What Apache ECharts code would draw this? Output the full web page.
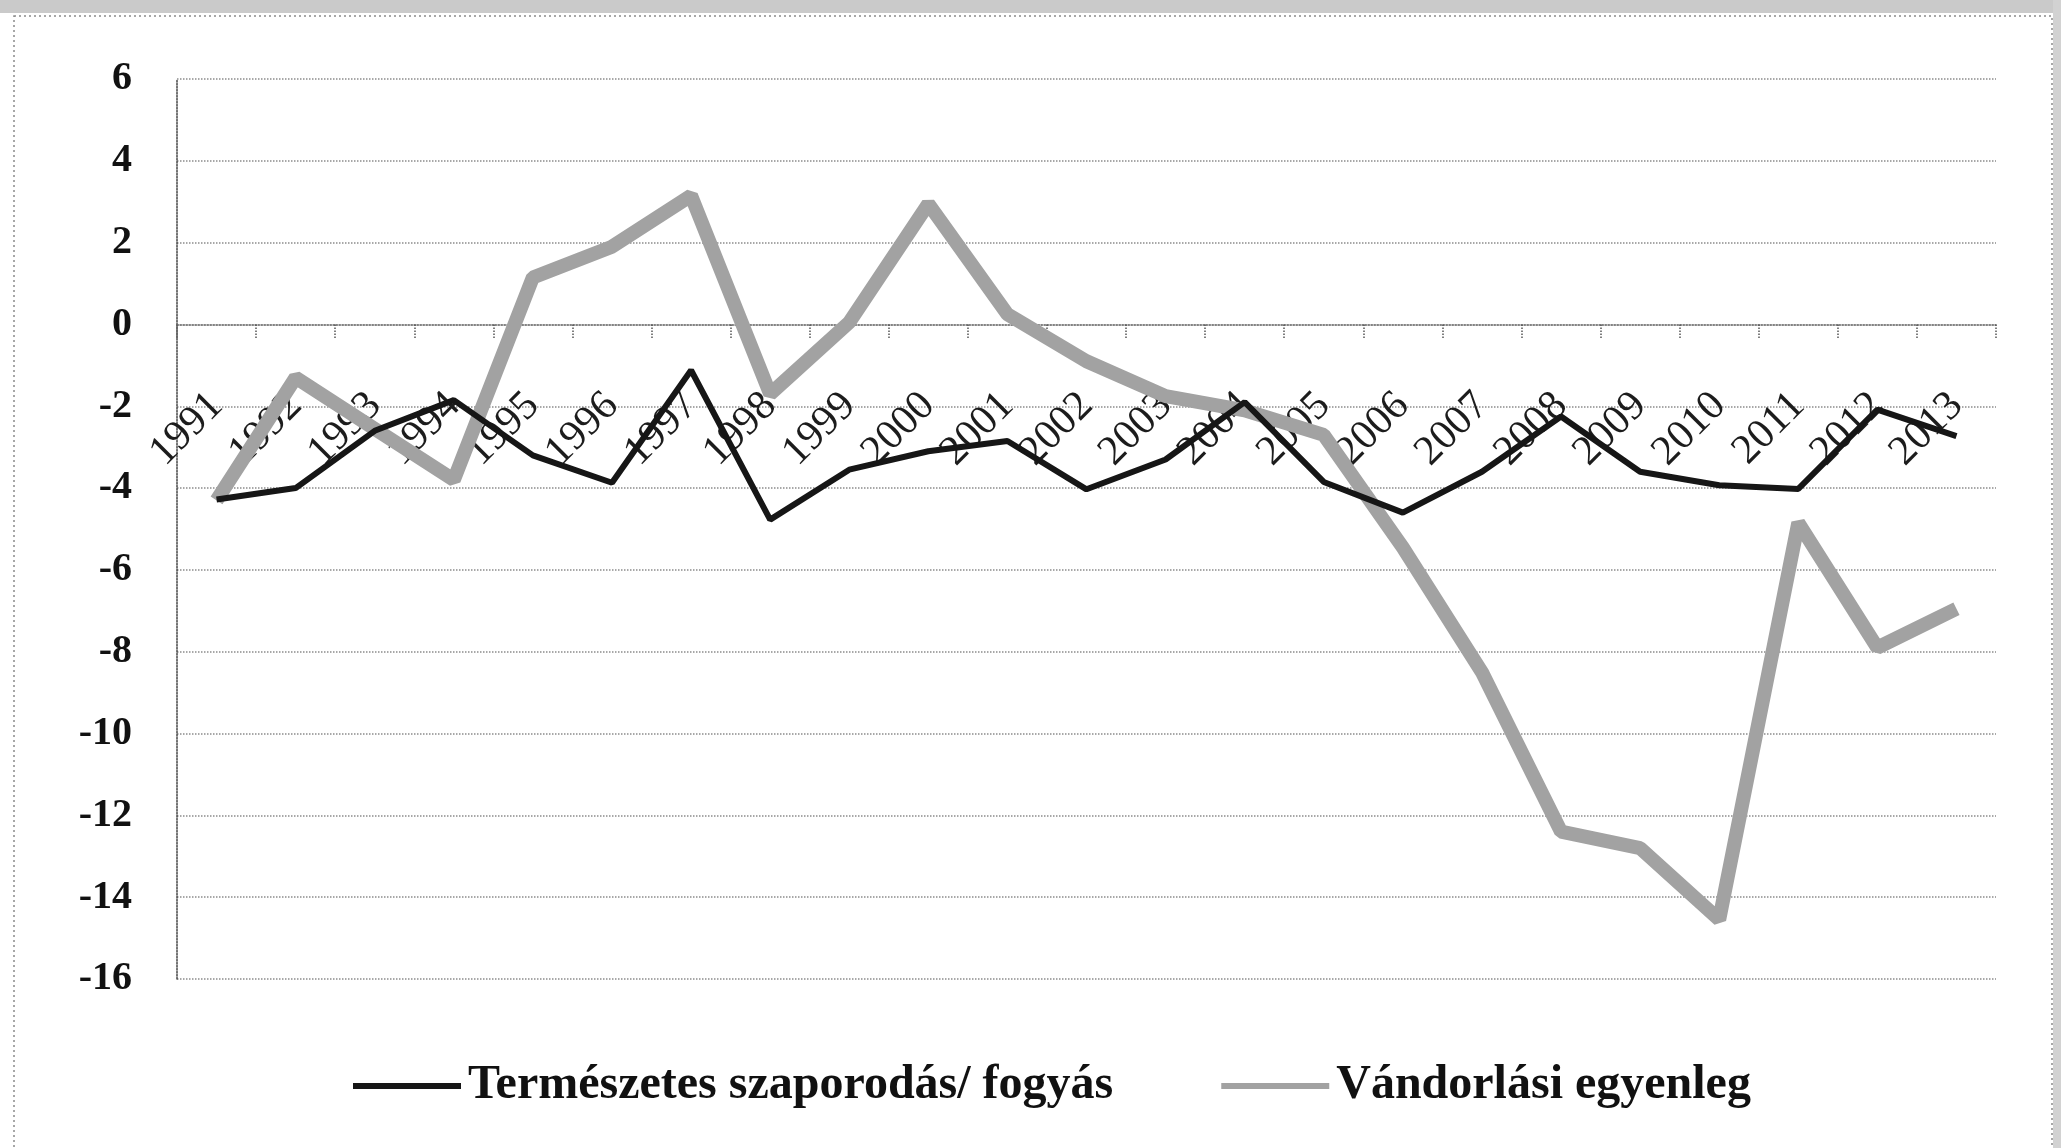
<!DOCTYPE html>
<html>
<head>
<meta charset="utf-8">
<script src="https://cdn.jsdelivr.net/npm/echarts@6/dist/echarts.min.js"></script>
<style>
  html, body { margin: 0; padding: 0; background: #fff; }
  #chart { width: 2061px; height: 1148px; }
</style>
</head>
<body>
<div id="chart"></div>
<script>
// years on the category axis
const years = ['1991', '1992', '1993', '1994', '1995', '1996', '1997', '1998', '1999', '2000',
  '2001', '2002', '2003', '2004', '2005', '2006', '2007', '2008', '2009', '2010', '2011', '2012', '2013']

// Természetes szaporodás / fogyás (black)
const natural = [-4.28, -4.0, -2.6, -1.85, -3.2, -3.87, -1.12, -4.77, -3.55, -3.1, -2.85, -4.03,
  -3.3, -1.9, -3.85, -4.6, -3.6, -2.25, -3.6, -3.93, -4.02, -2.08, -2.73]

// Vándorlási egyenleg (gray)
const migration = [-4.3, -1.3, -2.55, -3.8, 1.15, 1.9, 3.15, -1.7, 0.05, 2.95, 0.25, -0.9,
  -1.75, -2.1, -2.7, -5.45, -8.5, -12.4, -12.8, -14.55, -4.85, -7.9, -6.95]

const seriesNames = ['Természetes szaporodás/ fogyás', 'Vándorlási egyenleg']

const serif = 'Liberation Serif'

// plot box in px
const gridTop = 79
const gridBottom = 169
const yMin = -16
const yMax = 6

const chart = echarts.init(document.getElementById('chart'))

// the category axis sits on the zero line, labels included
const plotH = 1148 - gridTop - gridBottom
const zeroFromBottom = plotH * (0 - yMin) / (yMax - yMin)

chart.setOption({
  backgroundColor: '#fff',
  animation: false,
  graphic: [
    // scanned page edge + dotted frame
    {type: 'rect', shape: {x: 0, y: 0, width: 2061, height: 13}, style: {fill: '#cacaca'}, silent: true},
    {type: 'rect', shape: {x: 2053, y: 0, width: 8, height: 1148}, style: {fill: '#d2d2d2'}, silent: true},
    {type: 'rect', shape: {x: 14, y: 16, width: 2038, height: 1150},
      style: {fill: 'none', stroke: '#8a8a8a', lineWidth: 1.5, lineDash: [2, 3]}, silent: true}
  ],
  grid: {left: 177, right: 65, top: gridTop, bottom: gridBottom, containLabel: false},
  legend: {
    data: seriesNames,
    left: 348,
    top: 1057,
    icon: 'rect',
    itemWidth: 108,
    itemHeight: 6,
    itemGap: 108,
    textStyle: {fontFamily: serif, fontWeight: 'bold', fontSize: 48, color: '#111', padding: [0, 0, 0, 2]}
  },
  xAxis: {
    type: 'category',
    data: years,
    boundaryGap: true,
    offset: -zeroFromBottom,
    axisLine: {onZero: false, lineStyle: {color: '#777', width: 1.5, type: 'dotted'}},
    axisTick: {show: true, interval: 0, length: 14, lineStyle: {color: '#555', width: 1.5, type: 'dotted'}},
    axisLabel: {interval: 0, rotate: 45, margin: 75, fontFamily: serif, fontSize: 42, color: '#1c1c1c'},
    splitLine: {show: false}
  },
  yAxis: {
    type: 'value',
    min: yMin,
    max: yMax,
    interval: 2,
    axisLine: {show: true, lineStyle: {color: '#444', width: 1.5, type: 'dotted'}},
    axisTick: {show: false},
    axisLabel: {margin: 45, fontFamily: serif, fontWeight: 'bold', fontSize: 40, color: '#111'},
    splitLine: {lineStyle: {color: '#8c8c8c', width: 1.5, type: 'dotted'}}
  },
  series: [
    {
      name: seriesNames[0],
      type: 'line',
      data: natural,
      symbol: 'none',
      z: 4,
      color: '#161616',
      lineStyle: {color: '#161616', width: 6}
    },
    {
      name: seriesNames[1],
      type: 'line',
      data: migration,
      symbol: 'none',
      z: 3,
      color: '#a2a2a2',
      lineStyle: {color: '#a2a2a2', width: 14}
    }
  ]
})
</script>
</body>
</html>
